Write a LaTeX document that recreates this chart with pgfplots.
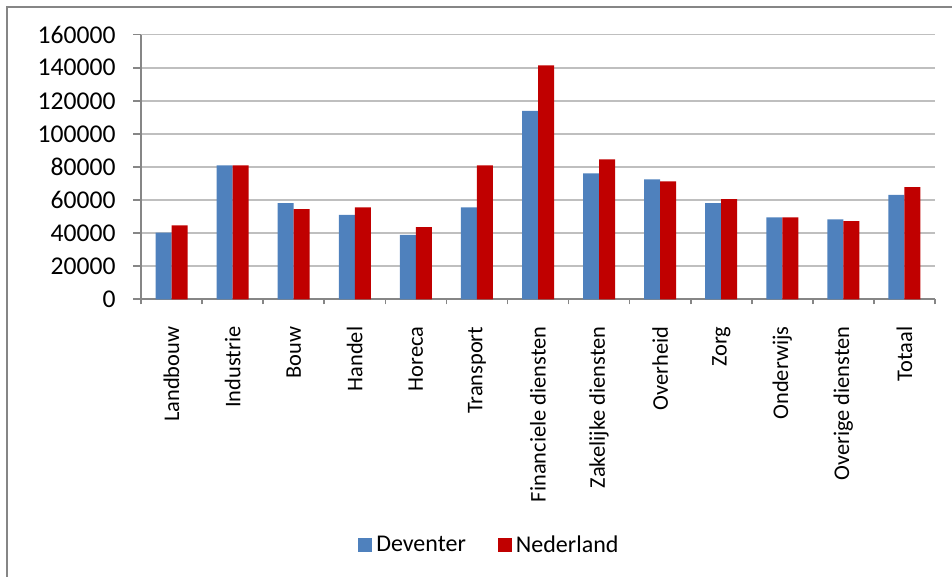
\documentclass[border=0pt]{standalone}
\usepackage{pgfplots}
\pgfplotsset{compat=1.18}
\usepackage{fontspec}
\setmainfont{Carlito}
\definecolor{dblue}{HTML}{4F81BD}
\definecolor{nred}{HTML}{C00000}
\definecolor{axgray}{HTML}{868686}
\definecolor{gridgray}{HTML}{BFBFBF}
\begin{document}
\begin{tikzpicture}[x=1pt,y=1pt]
\useasboundingbox (0,0) rectangle (476,288.5);
\draw[axgray,line width=0.8pt] (3.5,0) -- (3.5,285) -- (476,285);
\begin{axis}[
  at={(70.5pt,138.85pt)}, anchor=south west,
  scale only axis, width=397pt, height=132.3pt,
  ybar, bar width=8pt, bar shift auto=false,
  xmin=-0.5, xmax=12.5, ymin=0, ymax=160000,
  xtick={0,...,12},
  xticklabels={Landbouw,Industrie,Bouw,Handel,Horeca,Transport,Financiele diensten,Zakelijke diensten,Overheid,Zorg,Onderwijs,Overige diensten,Totaal},
  minor xtick={-0.5,0.5,...,12.5},
  major x tick style={draw=none},
  minor x tick style={axgray, line width=0.8pt},
  minor tick length=2.5pt,
  ytick={0,20000,...,160000},
  major tick length=4pt,
  y tick style={axgray, line width=0.8pt},
  tick align=outside,
  tick pos=left,
  ymajorgrids, grid style={gridgray, line width=0.8pt},
  axis x line*=bottom, axis y line*=left,
  axis line style={axgray, line width=0.8pt},
  /pgf/number format/assume math mode=true,
  yticklabel={\pgfmathprintnumber[fixed,1000 sep={}]{\tick}},
  scaled y ticks=false,
  tick label style={font=\fontsize{11.2}{13}\selectfont, black},
  yticklabel style={anchor=east, inner sep=0pt, xshift=-8.5pt, font=\fontsize{12.8}{14}\selectfont},
  xticklabel style={rotate=90, anchor=east, inner sep=0pt, xshift=-9.5pt},
  legend style={at={(0.44,0)}, anchor=center, yshift=-123pt, draw=none, legend columns=2, font=\fontsize{12}{14}\selectfont, /tikz/every even column/.append style={column sep=14pt}},
  legend image code/.code={\fill[#1] (0pt,-3.5pt) rectangle (7pt,3.5pt);},
]
\addplot[fill=dblue, draw=none, bar shift=-4pt] coordinates {
(0,40300) (1,81000) (2,58200) (3,51000) (4,38900) (5,55600) (6,113900) (7,76200) (8,72500) (9,58200) (10,49600) (11,48400) (12,63100)};
\addplot[fill=nred, draw=none, bar shift=4pt] coordinates {
(0,44700) (1,81000) (2,54600) (3,55600) (4,43700) (5,81000) (6,141500) (7,84600) (8,71300) (9,60500) (10,49600) (11,47200) (12,67900)};
\legend{Deventer, Nederland}
\end{axis}
\end{tikzpicture}
\end{document}
